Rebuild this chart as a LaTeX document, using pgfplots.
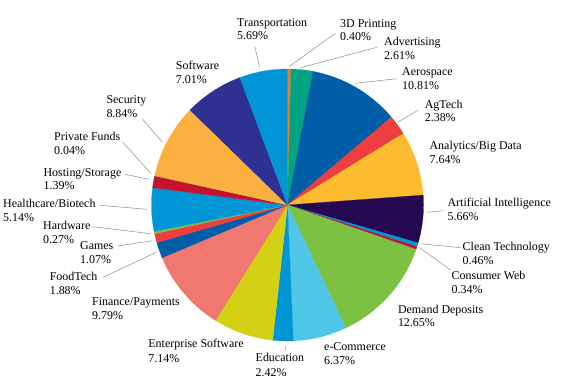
\documentclass[border=0pt]{standalone}
\usepackage{pgfplots}
\usepackage{pgfplotstable}
\pgfplotsset{compat=1.18}
\usepackage{fontspec}
\setmainfont{Liberation Serif}

\definecolor{c3d}{HTML}{F47B20}
\definecolor{cadv}{HTML}{00A482}
\definecolor{caero}{HTML}{005DA8}
\definecolor{cagtech}{HTML}{EE3E3E}
\definecolor{canalytics}{HTML}{FDBB30}
\definecolor{cai}{HTML}{25084F}
\definecolor{cclean}{HTML}{0096D6}
\definecolor{cconsumer}{HTML}{C4122F}
\definecolor{cdemand}{HTML}{7CC142}
\definecolor{cecom}{HTML}{4FC6E6}
\definecolor{ceduc}{HTML}{0096D6}
\definecolor{centerprise}{HTML}{D4D115}
\definecolor{cfinance}{HTML}{F07870}
\definecolor{cfood}{HTML}{005DA8}
\definecolor{cgames}{HTML}{EE3E3E}
\definecolor{chardware}{HTML}{7CC142}
\definecolor{chealth}{HTML}{0096D6}
\definecolor{chosting}{HTML}{C4122F}
\definecolor{cprivate}{HTML}{6D6E71}
\definecolor{csecurity}{HTML}{FBB040}
\definecolor{csoftware}{HTML}{2E3192}
\definecolor{ctransport}{HTML}{0096D6}
\definecolor{leader}{HTML}{8C8C8C}

% share of each sector, clockwise from 12 o'clock
\pgfplotstableread{
value color
0.40  c3d
2.61  cadv
10.81 caero
2.38  cagtech
7.64  canalytics
5.66  cai
0.46  cclean
0.34  cconsumer
12.65 cdemand
6.37  cecom
2.42  ceduc
7.14  centerprise
9.79  cfinance
1.88  cfood
1.07  cgames
0.27  chardware
5.14  chealth
1.39  chosting
0.04  cprivate
8.84  csecurity
7.01  csoftware
5.69  ctransport
}\piedata

\newcommand{\lab}[5]{%
  \node[anchor=base west,inner sep=0pt] at (axis cs:#1,#2+4) {#4};
  \node[anchor=base west,inner sep=0pt] at (axis cs:#1,#3+4) {#5};}

\begin{document}
\begin{tikzpicture}
\fontsize{12}{14}\selectfont
\begin{axis}[hide axis, scale only axis, x=1bp, y=1bp,
  xmin=0, xmax=576, ymin=0, ymax=387, y dir=reverse, clip=false]
\path (axis cs:0,0) (axis cs:576,387);
\def\cx{287.5}\def\cy{205}\def\rr{136}
\def\cum{0}
\pgfplotsforeachungrouped \i in {0,...,21}{%
  \pgfplotstablegetelem{\i}{value}\of\piedata \let\sliceval\pgfplotsretval
  \pgfplotstablegetelem{\i}{color}\of\piedata \let\slicecol\pgfplotsretval
  \pgfmathsetmacro\angA{90-3.6*\cum}%
  \pgfmathsetmacro\cumnew{\cum+\sliceval}%
  \pgfmathsetmacro\angB{90-3.6*\cumnew}%
  \let\cum\cumnew
  \edef\doslice{\noexpand\addplot[fill=\slicecol, draw=\slicecol, line width=0.25pt,
     domain=\angB:\angA, samples=60]
     ({\cx+\rr*cos(x)},{\cy-\rr*sin(x)}) -- (axis cs:\cx,\cy) -- cycle;}%
  \doslice
}

% leader lines
\begin{scope}[leader, line width=0.5pt]
\draw (axis cs:254.8,46.7) -- (axis cs:259.6,66.7);
\draw (axis cs:335.3,33.3) -- (axis cs:289,66.7);
\draw (axis cs:376.8,47.3) -- (axis cs:300.7,67.7);
\draw (axis cs:397,78.7) -- (axis cs:355,83.3);
\draw (axis cs:418.4,110) -- (axis cs:398,122);
\draw (axis cs:443,210.7) -- (axis cs:426.5,212.3);
\draw (axis cs:460.3,247.7) -- (axis cs:421,243.7);
\draw (axis cs:450.7,270) -- (axis cs:419,247.3);
\draw (axis cs:286,346) -- (axis cs:285.3,350.7);
\draw (axis cs:103,277.3) -- (axis cs:156.3,252.3);
\draw (axis cs:117.6,246) -- (axis cs:152.6,240.7);
\draw (axis cs:93,226.7) -- (axis cs:150.7,233.7);
\draw (axis cs:100,205.3) -- (axis cs:147,209.3);
\draw (axis cs:125,174.3) -- (axis cs:149,179.3);
\draw (axis cs:122.4,141.7) -- (axis cs:150.7,173.3);
\draw (axis cs:142.6,119.3) -- (axis cs:162.5,142.3);
\end{scope}

% labels
\lab{237}{22.3}{35}{Transportation}{5.69\%}
\lab{340}{23.3}{36}{3D Printing}{0.40\%}
\lab{384}{41.3}{55}{Advertising}{2.61\%}
\lab{402}{71}{85.3}{Aerospace}{10.81\%}
\lab{424.6}{104}{117.3}{AgTech}{2.38\%}
\lab{429.4}{145.3}{159.3}{Analytics/Big Data}{7.64\%}
\lab{447.4}{202.7}{216.7}{Artificial Intelligence}{5.66\%}
\lab{462.5}{246}{260}{Clean Technology}{0.46\%}
\lab{451.5}{275.3}{289.3}{Consumer Web}{0.34\%}
\lab{397.8}{309}{322.3}{Demand Deposits}{12.65\%}
\lab{324}{346.7}{360.7}{e-Commerce}{6.37\%}
\lab{255.5}{357.7}{372}{Education}{2.42\%}
\lab{148.2}{343.3}{358.7}{Enterprise Software}{7.14\%}
\lab{92}{301.7}{315}{Finance/Payments}{9.79\%}
\lab{49.6}{276.7}{290.3}{FoodTech}{1.88\%}
\lab{80}{245.7}{259.3}{Games}{1.07\%}
\lab{43}{225.7}{239.3}{Hardware}{0.27\%}
\lab{3}{203.7}{217.3}{Healthcare/Biotech}{5.14\%}
\lab{43.4}{172}{185.3}{Hosting/Storage}{1.39\%}
\lab{54}{136}{150.3}{Private Funds}{0.04\%}
\lab{106.3}{99}{113.3}{Security}{8.84\%}
\lab{175.7}{65.7}{79.3}{Software}{7.01\%}
\end{axis}
\end{tikzpicture}
\end{document}
